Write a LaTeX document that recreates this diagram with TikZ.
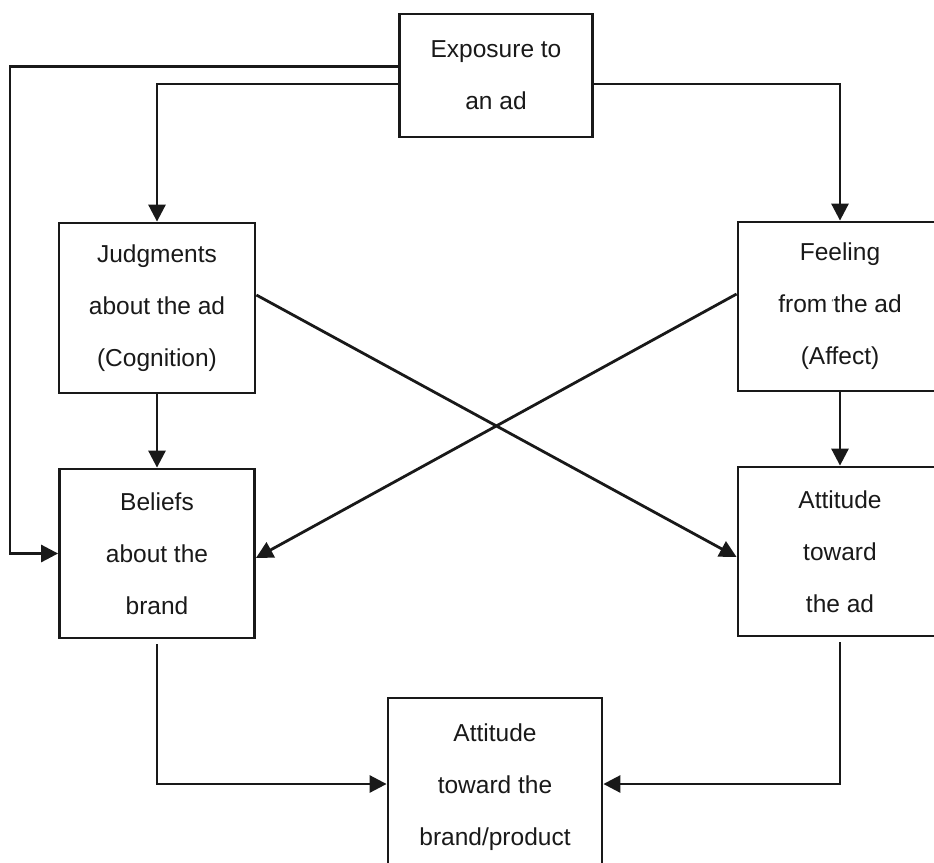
\documentclass[tikz,border=0pt]{standalone}
\usepackage{fontspec}
\setmainfont{Liberation Sans}
\usetikzlibrary{arrows.meta,calc}
\begin{document}
\begin{tikzpicture}[x=1pt,y=1pt,
  box/.style={draw=black!90,line width=2.8pt,align=center,inner sep=0pt,
    font=\fontsize{24.5}{52}\selectfont,text=black!90},
  arr/.style={draw=black!90,line width=2.8pt,-{Triangle[length=17pt,width=17pt]}}]
\useasboundingbox (0,0) rectangle (934,-862);
\node[box,minimum width=193pt,minimum height=123pt] (exp) at (496,-75.5) {Exposure to\\an ad};
\node[box,minimum width=196pt,minimum height=170pt] (jud) at (157,-308) {Judgments\\about the ad\\(Cognition)};
\node[box,minimum width=195pt,minimum height=169pt] (bel) at (157,-553.5) {Beliefs\\about the\\brand};
\node[box,minimum width=204pt,minimum height=169pt] (fee) at (840,-306.5) {Feeling\\from\,\raisebox{0.5ex}{\fontsize{10}{10}\selectfont\textquoteleft}the ad\\(Affect)};
\node[box,minimum width=204pt,minimum height=169pt] (att) at (840,-551.5) {Attitude\\toward\\the ad};
\node[box,minimum width=214pt,minimum height=178pt] (brand) at (495,-787) {Attitude\\toward the\\brand/product};
\coordinate (lft) at (10,0);
\draw[arr] ([yshift=9pt]exp.west) -| (bel.west -| lft) -- (bel.west);
\draw[arr] ([yshift=-8.5pt]exp.west) -| (jud.north);
\draw[arr] ([yshift=-8.5pt]exp.east) -| (fee.north);
\draw[arr] (jud.south) -- (bel.north);
\draw[arr] (fee.south) -- (att.north);
\draw[arr] ([yshift=13pt]jud.east) -- ([yshift=-5.5pt]att.west);
\draw[arr] ([yshift=12.5pt]fee.west) -- ([yshift=-4.5pt]bel.east);
\draw[arr,shorten <=5pt] (bel.south) |- ([yshift=3pt]brand.west);
\draw[arr,shorten <=5pt] (att.south) |- ([yshift=3pt]brand.east);
\end{tikzpicture}
\end{document}
